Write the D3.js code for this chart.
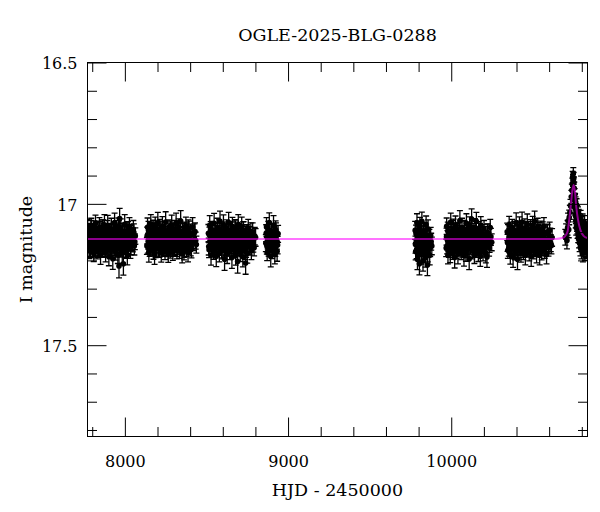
<!DOCTYPE html>
<html><head><meta charset="utf-8">
<script src="https://cdn.jsdelivr.net/npm/d3@7"></script>
<style>body{margin:0;background:#fff}svg{display:block}text{font-family:"DejaVu Serif",serif;fill:#000}</style>
</head><body>
<svg id="c" width="600" height="512"></svg>
<script>
// ---- chart values ----
const title = "OGLE-2025-BLG-0288";
const xLabel = "HJD - 2450000";
const yLabel = "I magnitude";
const xDomain = [7771, 10835];
const yDomain = [16.5, 17.823];
const xMajorTicks = [8000, 9000, 10000];
const xTickLabels = ["8000", "9000", "10000"];
const xMinorTicks = [7800, 8200, 8400, 8600, 8800, 9200, 9400, 9600, 9800, 10200, 10400, 10600, 10800];
const yMajorTicks = [16.5, 17, 17.5];
const yTickLabels = ["16.5", "17", "17.5"];
const yMinorTicks = [16.6, 16.7, 16.8, 16.9, 17.1, 17.2, 17.3, 17.4, 17.6, 17.7, 17.8];

// model light curve (HJD-2450000, I mag)
const modelT   = [7771, 10640, 10680, 10699, 10713, 10723, 10734, 10743, 10750, 10758, 10766, 10777, 10791, 10811, 10835];
const modelMag = [17.124, 17.124, 17.121, 17.113, 17.098, 17.057, 16.998, 16.950, 16.933, 16.956, 17.010, 17.057, 17.092, 17.113, 17.121];

// photometry per season: [HJD-2450000, I mag, error]
const season2017 = [[7772,17.086,.031],[7776,17.136,.027],[7779,17.119,.035],[7783,17.165,.029],[7787,17.102,.033],[7790,17.151,.038],[7794,17.077,.026],[7798,17.127,.032],[7802,17.157,.030],[7805,17.110,.036],[7809,17.176,.028],[7813,17.094,.034],[7817,17.132,.040],[7820,17.069,.029],[7824,17.143,.031],[7829,17.168,.027],[7833,17.115,.033],[7836,17.098,.037],[7840,17.154,.030],[7844,17.084,.035],[7848,17.139,.028],[7851,17.182,.032],[7855,17.106,.039],[7860,17.124,.030],[7864,17.161,.026],[7867,17.091,.034],[7871,17.147,.031],[7875,17.074,.036],[7879,17.130,.029],[7882,17.172,.033],[7886,17.112,.028],[7891,17.152,.035],[7895,17.082,.041],[7898,17.141,.030],[7902,17.187,.032],[7906,17.100,.027],[7910,17.126,.034],[7913,17.163,.030],[7917,17.088,.037],[7922,17.135,.029],[7926,17.194,.038],[7929,17.104,.031],[7933,17.155,.028],[7937,17.066,.033],[7941,17.121,.036],[7944,17.169,.030],[7948,17.095,.027],[7953,17.145,.035],[7957,17.179,.032],[7960,17.079,.029],[7964,17.220,.042],[7968,17.052,.036],[7972,17.158,.030],[7975,17.086,.033],[7979,17.128,.028],[7984,17.174,.037],[7988,17.099,.031],[7991,17.212,.040],[7995,17.150,.029],[7999,17.072,.034],[8003,17.138,.030],[8006,17.166,.027],[8010,17.116,.035],[8015,17.184,.032],[8019,17.092,.029],[8023,17.143,.036],[8028,17.080,.031],[8034,17.160,.033],[8040,17.104,.028],[8046,17.131,.035],[8052,17.089,.030],[8058,17.149,.032],[8064,17.114,.029]];
const season2017b = [[7774,17.142,.030],[7778,17.099,.028],[7781,17.154,.032],[7785,17.116,.029],[7789,17.129,.031],[7792,17.092,.033],[7796,17.148,.027],[7800,17.109,.030],[7804,17.134,.032],[7807,17.159,.029],[7811,17.104,.031],[7815,17.126,.028],[7819,17.152,.033],[7822,17.114,.030],[7827,17.094,.029],[7831,17.139,.031],[7834,17.157,.032],[7838,17.119,.028],[7842,17.144,.030],[7846,17.096,.033],[7850,17.132,.029],[7853,17.106,.031],[7858,17.150,.030],[7862,17.089,.032],[7866,17.136,.028],[7869,17.124,.030],[7873,17.102,.031],[7877,17.156,.033],[7881,17.128,.029],[7884,17.112,.030],[7889,17.146,.031],[7893,17.091,.032],[7897,17.140,.028],[7900,17.122,.030],[7904,17.153,.031],[7908,17.098,.029],[7912,17.131,.033],[7915,17.108,.030],[7919,17.158,.032],[7924,17.118,.028],[7928,17.143,.031],[7931,17.095,.030],[7935,17.135,.029],[7939,17.151,.032],[7943,17.103,.030],[7946,17.123,.028],[7951,17.155,.033],[7955,17.111,.030],[7959,17.138,.029],[7962,17.090,.031],[7966,17.149,.032],[7970,17.115,.030],[7974,17.130,.028],[7977,17.154,.031],[7982,17.100,.030],[7986,17.141,.032],[7990,17.120,.029],[7993,17.147,.030],[7997,17.107,.031],[8001,17.133,.028],[8005,17.157,.032],[8008,17.097,.030],[8013,17.127,.029],[8017,17.145,.031],[8021,17.113,.030],[8026,17.137,.028],[8031,17.105,.032],[8037,17.150,.030],[8043,17.121,.029],[8049,17.139,.031],[8055,17.101,.030],[8061,17.134,.028]];
const season2018 = [[8135,17.149,.030],[8139,17.083,.033],[8143,17.132,.028],[8147,17.171,.035],[8150,17.107,.031],[8154,17.157,.027],[8159,17.072,.034],[8163,17.122,.030],[8166,17.142,.036],[8170,17.094,.029],[8175,17.164,.032],[8179,17.113,.028],[8182,17.179,.035],[8186,17.078,.031],[8191,17.136,.027],[8195,17.152,.033],[8198,17.101,.030],[8202,17.066,.036],[8207,17.160,.029],[8211,17.128,.031],[8214,17.089,.034],[8218,17.145,.028],[8223,17.174,.032],[8227,17.116,.030],[8230,17.080,.035],[8234,17.139,.027],[8239,17.155,.031],[8243,17.097,.033],[8246,17.168,.029],[8250,17.064,.036],[8255,17.133,.030],[8259,17.150,.028],[8262,17.109,.034],[8266,17.176,.031],[8271,17.086,.029],[8275,17.124,.033],[8278,17.162,.030],[8282,17.104,.027],[8287,17.075,.035],[8291,17.141,.031],[8294,17.171,.029],[8298,17.118,.034],[8303,17.153,.030],[8307,17.091,.032],[8310,17.130,.028],[8314,17.069,.036],[8319,17.165,.030],[8323,17.146,.033],[8326,17.112,.029],[8330,17.084,.031],[8335,17.158,.035],[8339,17.135,.028],[8342,17.061,.037],[8346,17.143,.030],[8351,17.177,.032],[8355,17.099,.029],[8358,17.126,.034],[8362,17.167,.031],[8367,17.093,.028],[8371,17.137,.033],[8374,17.077,.030],[8378,17.151,.035],[8383,17.115,.029],[8387,17.173,.032],[8390,17.088,.031],[8395,17.140,.028],[8401,17.106,.034],[8408,17.161,.030],[8415,17.082,.033],[8422,17.129,.029],[8430,17.098,.031],[8438,17.144,.030]];
const season2018b = [[8137,17.112,.030],[8141,17.146,.028],[8145,17.094,.032],[8149,17.130,.029],[8152,17.155,.031],[8157,17.105,.030],[8161,17.138,.033],[8164,17.120,.028],[8168,17.151,.030],[8173,17.090,.032],[8177,17.133,.029],[8180,17.101,.031],[8184,17.142,.030],[8189,17.157,.033],[8193,17.116,.028],[8196,17.097,.030],[8200,17.127,.031],[8205,17.148,.029],[8209,17.109,.032],[8212,17.159,.030],[8216,17.123,.028],[8221,17.092,.031],[8225,17.136,.030],[8228,17.144,.029],[8232,17.104,.032],[8237,17.153,.030],[8241,17.114,.028],[8244,17.131,.031],[8248,17.095,.030],[8253,17.140,.033],[8257,17.158,.029],[8260,17.111,.030],[8264,17.125,.031],[8269,17.099,.028],[8273,17.149,.032],[8276,17.135,.030],[8280,17.089,.029],[8285,17.143,.031],[8289,17.118,.030],[8292,17.154,.032],[8296,17.107,.028],[8301,17.129,.030],[8305,17.150,.031],[8308,17.096,.029],[8312,17.137,.030],[8317,17.121,.033],[8321,17.156,.030],[8324,17.103,.028],[8328,17.132,.031],[8333,17.093,.030],[8337,17.145,.029],[8340,17.115,.032],[8344,17.139,.030],[8349,17.152,.028],[8353,17.100,.031],[8356,17.126,.030],[8360,17.110,.029],[8365,17.157,.032],[8369,17.106,.030],[8372,17.134,.028],[8376,17.098,.031],[8381,17.147,.030],[8385,17.117,.029],[8389,17.141,.032],[8393,17.091,.030],[8398,17.128,.028],[8404,17.153,.031],[8411,17.108,.030],[8418,17.136,.029],[8426,17.102,.031],[8434,17.130,.030]];
const season2019 = [[8512,17.104,.031],[8516,17.162,.028],[8520,17.076,.034],[8524,17.134,.030],[8528,17.181,.036],[8531,17.091,.029],[8535,17.146,.033],[8540,17.119,.030],[8544,17.169,.027],[8547,17.069,.035],[8551,17.138,.031],[8556,17.097,.029],[8560,17.185,.037],[8563,17.126,.030],[8567,17.084,.033],[8572,17.154,.028],[8576,17.112,.034],[8579,17.174,.031],[8583,17.062,.036],[8588,17.142,.029],[8592,17.100,.032],[8595,17.165,.030],[8599,17.130,.027],[8604,17.074,.035],[8608,17.157,.031],[8611,17.196,.039],[8615,17.108,.029],[8620,17.150,.033],[8624,17.087,.030],[8627,17.177,.034],[8631,17.122,.028],[8636,17.066,.036],[8640,17.140,.031],[8643,17.168,.029],[8647,17.095,.033],[8652,17.133,.030],[8656,17.190,.038],[8659,17.079,.031],[8663,17.148,.028],[8668,17.116,.034],[8672,17.160,.030],[8675,17.089,.033],[8679,17.182,.035],[8684,17.106,.029],[8688,17.136,.031],[8691,17.204,.041],[8695,17.072,.034],[8700,17.153,.030],[8704,17.102,.028],[8707,17.171,.033],[8711,17.125,.030],[8716,17.082,.035],[8720,17.144,.029],[8723,17.187,.036],[8727,17.094,.031],[8732,17.131,.028],[8736,17.163,.033],[8740,17.209,.040],[8745,17.109,.030],[8750,17.176,.034],[8756,17.086,.031],[8762,17.149,.029],[8768,17.114,.033],[8775,17.167,.030],[8783,17.099,.032],[8792,17.155,.029],[8801,17.119,.031]];
const season2019b = [[8514,17.151,.030],[8518,17.110,.028],[8522,17.132,.031],[8526,17.093,.030],[8530,17.144,.032],[8533,17.127,.029],[8538,17.102,.030],[8542,17.157,.031],[8545,17.117,.028],[8549,17.138,.030],[8554,17.097,.032],[8558,17.149,.029],[8561,17.122,.030],[8565,17.154,.031],[8570,17.106,.028],[8574,17.134,.030],[8577,17.090,.033],[8581,17.146,.029],[8586,17.129,.030],[8590,17.113,.031],[8593,17.159,.032],[8597,17.099,.028],[8602,17.140,.030],[8606,17.120,.031],[8609,17.152,.029],[8613,17.094,.030],[8618,17.136,.032],[8622,17.143,.028],[8625,17.108,.030],[8629,17.125,.031],[8634,17.156,.029],[8638,17.103,.030],[8641,17.133,.032],[8645,17.115,.028],[8650,17.148,.030],[8654,17.096,.031],[8657,17.139,.029],[8661,17.123,.030],[8666,17.158,.033],[8670,17.105,.028],[8673,17.130,.030],[8677,17.091,.031],[8682,17.145,.029],[8686,17.153,.030],[8689,17.111,.032],[8693,17.126,.028],[8698,17.100,.030],[8702,17.150,.031],[8705,17.135,.029],[8709,17.118,.030],[8714,17.155,.032],[8718,17.107,.028],[8721,17.142,.030],[8725,17.095,.031],[8730,17.128,.029],[8734,17.147,.030],[8738,17.112,.032],[8743,17.160,.029],[8748,17.104,.030],[8753,17.137,.031],[8759,17.121,.028],[8765,17.151,.030],[8772,17.098,.031],[8779,17.132,.029],[8787,17.141,.030],[8796,17.114,.031]];
const season2020 = [[8864,17.139,.030],[8868,17.082,.033],[8872,17.172,.029],[8877,17.114,.035],[8881,17.154,.031],[8885,17.066,.034],[8889,17.129,.028],[8894,17.186,.037],[8898,17.099,.030],[8902,17.162,.032],[8906,17.121,.029],[8911,17.076,.034],[8915,17.146,.030],[8919,17.179,.033],[8924,17.091,.031],[8928,17.134,.028],[8933,17.168,.035],[8939,17.106,.030]];
const season2020b = [[8866,17.104,.030],[8870,17.149,.029],[8875,17.128,.031],[8879,17.092,.030],[8883,17.140,.032],[8887,17.157,.028],[8892,17.115,.030],[8896,17.134,.031],[8900,17.099,.029],[8904,17.152,.030],[8909,17.121,.032],[8913,17.143,.028],[8917,17.110,.030],[8922,17.155,.031],[8926,17.096,.029],[8931,17.130,.030],[8936,17.146,.031]];
const season2022 = [[9779,17.094,.032],[9782,17.169,.029],[9786,17.134,.034],[9790,17.066,.031],[9793,17.196,.037],[9797,17.109,.030],[9801,17.152,.033],[9805,17.212,.039],[9808,17.079,.031],[9812,17.127,.028],[9816,17.179,.034],[9820,17.062,.033],[9823,17.144,.030],[9827,17.202,.036],[9831,17.099,.029],[9835,17.164,.032],[9838,17.119,.030],[9842,17.189,.035],[9846,17.074,.031],[9850,17.139,.029],[9854,17.216,.038],[9858,17.089,.032],[9863,17.157,.030],[9868,17.182,.034],[9874,17.112,.029],[9881,17.149,.031]];
const season2022b = [[9781,17.144,.030],[9784,17.106,.031],[9788,17.162,.032],[9791,17.129,.029],[9795,17.094,.030],[9799,17.169,.033],[9803,17.136,.030],[9806,17.116,.028],[9810,17.154,.031],[9814,17.099,.030],[9818,17.174,.033],[9821,17.124,.029],[9825,17.149,.030],[9829,17.109,.031],[9833,17.166,.032],[9836,17.132,.029],[9840,17.096,.030],[9844,17.159,.031],[9848,17.139,.030],[9852,17.114,.028],[9856,17.172,.033],[9861,17.146,.030],[9866,17.119,.029],[9871,17.156,.031],[9877,17.134,.030]];
const season2023 = [[9969,17.156,.031],[9972,17.079,.029],[9977,17.129,.034],[9980,17.182,.030],[9985,17.102,.033],[9988,17.142,.028],[9994,17.172,.036],[9997,17.064,.031],[10002,17.150,.029],[10005,17.116,.033],[10009,17.166,.030],[10014,17.089,.035],[10017,17.136,.028],[10021,17.190,.037],[10026,17.074,.031],[10029,17.124,.029],[10033,17.161,.033],[10038,17.106,.030],[10041,17.178,.034],[10046,17.096,.029],[10049,17.145,.031],[10053,17.059,.035],[10058,17.132,.030],[10061,17.169,.028],[10066,17.084,.033],[10069,17.153,.031],[10073,17.112,.029],[10078,17.184,.036],[10081,17.091,.030],[10085,17.139,.032],[10090,17.174,.029],[10093,17.069,.034],[10098,17.127,.030],[10101,17.158,.031],[10105,17.104,.028],[10110,17.195,.038],[10113,17.078,.032],[10117,17.148,.030],[10122,17.119,.029],[10125,17.054,.036],[10129,17.164,.031],[10134,17.098,.029],[10137,17.134,.033],[10142,17.181,.030],[10145,17.086,.034],[10149,17.143,.029],[10154,17.062,.032],[10157,17.159,.030],[10161,17.110,.028],[10166,17.171,.033],[10169,17.094,.031],[10173,17.130,.029],[10178,17.186,.035],[10181,17.076,.031],[10186,17.151,.030],[10190,17.114,.028],[10195,17.168,.034],[10201,17.089,.030],[10206,17.140,.029],[10212,17.176,.033],[10219,17.188,.037],[10224,17.102,.030],[10232,17.154,.031],[10239,17.084,.029],[10248,17.136,.030]];
const season2023b = [[9971,17.116,.030],[9975,17.148,.029],[9979,17.096,.031],[9983,17.138,.030],[9986,17.157,.032],[9991,17.109,.028],[9995,17.127,.030],[9999,17.152,.031],[10003,17.102,.029],[10007,17.134,.030],[10011,17.091,.032],[10015,17.143,.028],[10019,17.159,.030],[10023,17.120,.031],[10027,17.146,.029],[10031,17.098,.030],[10035,17.131,.032],[10039,17.154,.028],[10043,17.112,.030],[10047,17.140,.031],[10051,17.094,.029],[10055,17.150,.030],[10059,17.125,.032],[10063,17.106,.028],[10067,17.158,.030],[10071,17.118,.031],[10075,17.136,.029],[10079,17.089,.030],[10083,17.144,.032],[10087,17.153,.028],[10091,17.114,.030],[10095,17.129,.031],[10099,17.100,.029],[10103,17.155,.030],[10107,17.139,.032],[10111,17.122,.028],[10115,17.095,.030],[10119,17.147,.031],[10123,17.133,.029],[10127,17.108,.030],[10131,17.157,.032],[10135,17.104,.028],[10139,17.141,.030],[10143,17.151,.031],[10147,17.115,.029],[10151,17.092,.030],[10155,17.137,.032],[10159,17.149,.028],[10163,17.110,.030],[10167,17.128,.031],[10171,17.154,.029],[10175,17.099,.030],[10179,17.142,.032],[10183,17.121,.028],[10188,17.145,.030],[10192,17.105,.031],[10197,17.135,.029],[10203,17.158,.030],[10209,17.113,.032],[10215,17.150,.028],[10221,17.101,.030],[10228,17.132,.031],[10235,17.143,.029],[10243,17.117,.030]];
const season2024 = [[10343,17.099,.031],[10347,17.164,.029],[10350,17.132,.033],[10355,17.074,.030],[10358,17.146,.028],[10362,17.179,.034],[10367,17.112,.030],[10370,17.154,.031],[10374,17.084,.029],[10379,17.189,.036],[10382,17.126,.030],[10386,17.094,.032],[10391,17.169,.029],[10394,17.139,.031],[10398,17.066,.034],[10403,17.150,.030],[10406,17.196,.037],[10410,17.106,.029],[10415,17.160,.031],[10418,17.079,.033],[10422,17.134,.028],[10427,17.174,.032],[10430,17.096,.030],[10434,17.064,.035],[10439,17.144,.029],[10442,17.166,.031],[10446,17.116,.030],[10451,17.086,.033],[10454,17.182,.034],[10458,17.128,.028],[10463,17.157,.031],[10466,17.072,.036],[10470,17.138,.029],[10475,17.102,.031],[10478,17.172,.030],[10482,17.149,.028],[10487,17.089,.033],[10490,17.186,.035],[10494,17.119,.030],[10499,17.076,.032],[10502,17.142,.029],[10506,17.164,.031],[10511,17.062,.036],[10514,17.152,.030],[10518,17.109,.028],[10523,17.176,.033],[10526,17.130,.030],[10530,17.082,.031],[10535,17.159,.029],[10538,17.099,.033],[10542,17.182,.034],[10547,17.136,.029],[10550,17.092,.031],[10554,17.168,.030],[10559,17.114,.028],[10563,17.150,.032],[10568,17.079,.030],[10573,17.162,.031],[10578,17.126,.029],[10584,17.179,.033],[10590,17.104,.030],[10596,17.154,.031],[10603,17.094,.029],[10610,17.139,.030],[10618,17.119,.031]];
const season2024b = [[10345,17.138,.030],[10348,17.102,.029],[10353,17.154,.031],[10356,17.118,.030],[10360,17.143,.032],[10364,17.093,.028],[10368,17.132,.030],[10372,17.158,.031],[10377,17.109,.029],[10380,17.127,.030],[10384,17.149,.032],[10388,17.097,.028],[10392,17.136,.030],[10396,17.121,.031],[10400,17.156,.029],[10404,17.105,.030],[10408,17.130,.032],[10412,17.146,.028],[10416,17.091,.030],[10420,17.140,.031],[10425,17.153,.029],[10428,17.114,.030],[10432,17.125,.032],[10437,17.099,.028],[10440,17.159,.030],[10444,17.110,.031],[10448,17.144,.029],[10452,17.133,.030],[10456,17.095,.032],[10461,17.151,.028],[10464,17.119,.030],[10468,17.137,.031],[10472,17.103,.029],[10476,17.155,.030],[10480,17.123,.032],[10485,17.090,.028],[10488,17.142,.030],[10492,17.131,.031],[10496,17.107,.029],[10500,17.152,.030],[10504,17.148,.032],[10508,17.116,.028],[10512,17.096,.030],[10516,17.135,.031],[10520,17.157,.029],[10524,17.112,.030],[10528,17.141,.032],[10533,17.101,.028],[10536,17.128,.030],[10540,17.154,.031],[10544,17.106,.029],[10548,17.145,.030],[10552,17.122,.032],[10557,17.150,.028],[10561,17.094,.030],[10565,17.134,.031],[10570,17.111,.029],[10575,17.139,.030],[10581,17.153,.032],[10587,17.100,.028],[10593,17.129,.030],[10600,17.143,.031],[10607,17.115,.029],[10614,17.147,.030]];
const season2025 = [[10699,17.118,.028],[10704,17.098,.027],[10709,17.130,.029],[10713,17.085,.026],[10716,17.060,.027],[10720,17.092,.028],[10723,17.048,.026],[10727,17.030,.025],[10731,17.008,.024],[10736,16.975,.023],[10739,16.952,.022],[10742,16.930,.021],[10744,16.905,.020],[10746,16.918,.021],[10748,16.892,.020],[10750,16.910,.021],[10752,16.925,.020],[10754,16.945,.022],[10756,16.968,.022],[10757,17.010,.023],[10759,16.985,.022],[10760,17.040,.024],[10762,16.998,.023],[10763,17.060,.025],[10765,17.022,.024],[10766,17.085,.026],[10768,17.005,.023],[10769,17.050,.025],[10771,17.072,.025],[10772,17.030,.024],[10774,17.095,.027],[10775,17.058,.025],[10777,17.035,.024],[10778,17.110,.027],[10780,17.070,.026],[10781,17.045,.025],[10783,17.128,.028],[10784,17.088,.026],[10786,17.060,.025],[10787,17.140,.029],[10789,17.105,.027],[10790,17.075,.026],[10792,17.155,.029],[10793,17.048,.025],[10795,17.118,.027],[10796,17.090,.026],[10798,17.165,.030],[10799,17.070,.026],[10801,17.132,.028],[10802,17.100,.027],[10804,17.148,.029],[10805,17.062,.026],[10807,17.175,.030],[10808,17.115,.027],[10810,17.085,.026],[10811,17.140,.028],[10813,17.158,.029],[10814,17.095,.027],[10816,17.125,.028],[10817,17.068,.026],[10819,17.170,.030],[10820,17.108,.027],[10822,17.138,.028],[10823,17.082,.026],[10825,17.160,.029],[10826,17.118,.027],[10828,17.092,.026],[10829,17.145,.028],[10831,17.128,.028],[10832,17.105,.027],[10834,17.150,.029]];
const season2025b = [[10758,16.990,.023],[10761,17.015,.024],[10764,17.045,.025],[10767,17.030,.024],[10770,17.060,.025],[10773,17.080,.026],[10776,17.068,.026],[10779,17.092,.027],[10782,17.100,.027],[10785,17.112,.027],[10788,17.085,.026],[10791,17.125,.028],[10794,17.100,.027],[10797,17.135,.028],[10800,17.118,.027],[10803,17.085,.026],[10806,17.140,.028],[10809,17.102,.027],[10812,17.128,.028],[10815,17.150,.029],[10818,17.095,.027],[10821,17.122,.028],[10824,17.140,.028],[10827,17.108,.027],[10830,17.165,.029],[10833,17.120,.028]];
const seasons = [season2017, season2017b, season2018, season2018b, season2019, season2019b, season2020, season2020b,
                 season2022, season2022b, season2023, season2023b, season2024, season2024b, season2025, season2025b];

// ---- drawing ----
const svg = d3.select("#c");
const L = 87.5, R = 587.5, T = 62.5, B = 436.5;
const x = d3.scaleLinear().domain(xDomain).range([L, R]);
const y = d3.scaleLinear().domain(yDomain).range([T, B]);

svg.append("defs").append("clipPath").attr("id","clip")
  .append("rect").attr("x",L).attr("y",T).attr("width",R-L).attr("height",B-T);

const plot = svg.append("g").attr("clip-path","url(#clip)");
const pts = seasons.flat();

plot.append("g").selectAll("path").data(pts).join("path")
  .attr("d", d => {
    const px = x(d[0]), y1 = y(d[1]-d[2]), y2 = y(d[1]+d[2]);
    return `M${px},${y1}V${y2}M${px-3},${y1}H${px+3}M${px-3},${y2}H${px+3}`;
  })
  .attr("stroke","#000").attr("stroke-width",1.3).attr("fill","none");

plot.append("g").selectAll("circle").data(pts).join("circle")
  .attr("cx", d => x(d[0])).attr("cy", d => y(d[1])).attr("r", 2.8).attr("fill","#000");

const line = d3.line().x(d => x(d[0])).y(d => y(d[1])).curve(d3.curveMonotoneX);
plot.append("path").datum(modelT.map((t,i)=>[t, modelMag[i]]))
  .attr("d", line).attr("fill","none").attr("stroke","#ff00ff").attr("stroke-opacity",0.55).attr("stroke-width",2);

// axes (ticks inward on all four sides)
function ax(g, axis){ g.call(axis); g.select(".domain").remove(); g.selectAll("line").attr("stroke","#000"); return g; }
const fs = "16px";
ax(svg.append("g").attr("transform",`translate(0,${B})`),
   d3.axisBottom(x).tickValues(xMajorTicks).tickSizeInner(-19).tickSizeOuter(0).tickPadding(19).tickFormat((d,i)=>xTickLabels[i]))
  .selectAll("text").attr("font-size",fs).attr("font-family","DejaVu Serif");
ax(svg.append("g").attr("transform",`translate(0,${B})`),
   d3.axisBottom(x).tickValues(xMinorTicks).tickSizeInner(-9.5).tickSizeOuter(0).tickFormat(""));
ax(svg.append("g").attr("transform",`translate(0,${T})`),
   d3.axisTop(x).tickValues(xMajorTicks).tickSizeInner(-19).tickSizeOuter(0).tickFormat(""));
ax(svg.append("g").attr("transform",`translate(0,${T})`),
   d3.axisTop(x).tickValues(xMinorTicks).tickSizeInner(-9.5).tickSizeOuter(0).tickFormat(""));
ax(svg.append("g").attr("transform",`translate(${L},0)`),
   d3.axisLeft(y).tickValues(yMajorTicks).tickSizeInner(-19).tickSizeOuter(0).tickPadding(10).tickFormat((d,i)=>yTickLabels[i]))
  .selectAll("text").attr("font-size",fs).attr("font-family","DejaVu Serif").attr("dy","0.4em");
ax(svg.append("g").attr("transform",`translate(${L},0)`),
   d3.axisLeft(y).tickValues(yMinorTicks).tickSizeInner(-9.5).tickSizeOuter(0).tickFormat(""));
ax(svg.append("g").attr("transform",`translate(${R},0)`),
   d3.axisRight(y).tickValues(yMajorTicks).tickSizeInner(-19).tickSizeOuter(0).tickFormat(""));
ax(svg.append("g").attr("transform",`translate(${R},0)`),
   d3.axisRight(y).tickValues(yMinorTicks).tickSizeInner(-9.5).tickSizeOuter(0).tickFormat(""));

svg.append("rect").attr("x",L).attr("y",T).attr("width",R-L).attr("height",B-T)
  .attr("fill","none").attr("stroke","#000").attr("stroke-width",1);

svg.append("text").attr("x",(L+R)/2).attr("y",41).attr("text-anchor","middle")
  .attr("font-size","17.5px").text(title);
svg.append("text").attr("x",(L+R)/2).attr("y",496).attr("text-anchor","middle")
  .attr("font-size","17.5px").text(xLabel);
svg.append("text").attr("transform",`translate(31.5,${(T+B)/2}) rotate(-90)`).attr("text-anchor","middle")
  .attr("font-size","17.5px").text(yLabel);
</script>
</body></html>
